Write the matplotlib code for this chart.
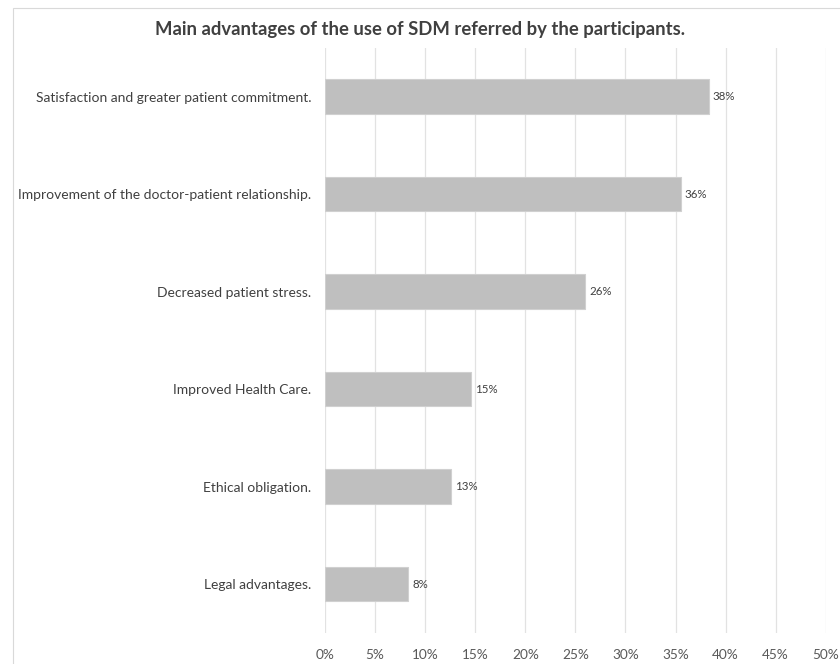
import matplotlib
matplotlib.use("Agg")
import matplotlib.pyplot as plt
from matplotlib.ticker import MultipleLocator, FuncFormatter
from matplotlib.patches import Rectangle

categories = [
    "Satisfaction and greater patient commitment.",
    "Improvement of the doctor-patient relationship.",
    "Decreased patient stress.",
    "Improved Health Care.",
    "Ethical obligation.",
    "Legal advantages.",
]
values = [38.3, 35.5, 26.0, 14.6, 12.6, 8.3]
title = "Main advantages of the use of SDM referred by the participants."

plt.rcParams['font.family'] = ['Lato', 'DejaVu Sans']

fig = plt.figure(figsize=(8.4, 6.64), dpi=100)
ax = fig.add_axes([0.387, 0.047, 0.596, 0.881])

y = list(range(len(categories)))
ax.barh(y, values, height=0.35, color="#bfbfbf", edgecolor="#d0d0d0", linewidth=0.8, zorder=3)
for yi, v in zip(y, values):
    ax.text(v + 0.4, yi, f"{v:.0f}%", va="center", ha="left", fontsize=8.3, color="#404040")

ax.set_ylim(len(categories) - 0.5, -0.5)
ax.set_yticks(y)
ax.set_yticklabels(categories, fontsize=10, color="#404040")
ax.set_xlim(0, 50)
ax.xaxis.set_major_locator(MultipleLocator(5))
ax.xaxis.set_major_formatter(FuncFormatter(lambda x, p: f"{x:.0f}%"))
ax.tick_params(axis="x", labelsize=9.8, labelcolor="#595959", length=0, pad=12)
ax.tick_params(axis="y", length=0, pad=10)
ax.grid(axis="x", color="#e2e2e2", linewidth=0.9, zorder=0)
for s in ax.spines.values():
    s.set_visible(False)

fig.text(0.5, 0.955, title, ha="center", va="center", fontsize=13.3, fontweight="bold", color="#404040")

fig.patches.append(Rectangle((13 / 840, -0.1), 1.2, 1.1 - 8 / 664, transform=fig.transFigure,
                             fill=False, edgecolor="#d9d9d9", linewidth=0.8))

fig.savefig("out.png", dpi=100, facecolor="white")
